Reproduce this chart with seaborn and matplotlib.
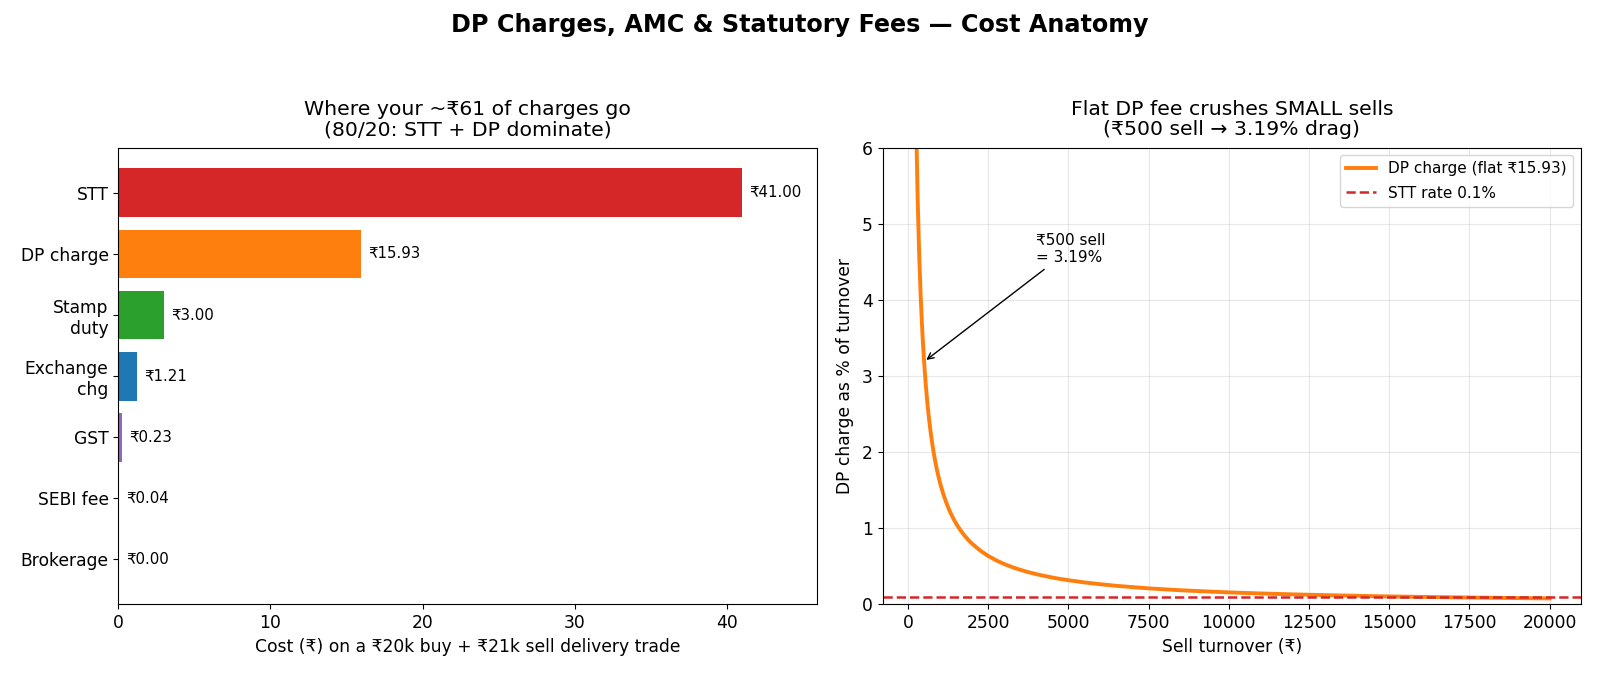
import matplotlib
matplotlib.use("Agg")
import matplotlib.pyplot as plt
import seaborn as sns
import pandas as pd

# left panel: cost breakdown of one delivery round trip
fee_names = ["STT", "DP charge", "Stamp\nduty", "Exchange\nchg", "GST", "SEBI fee", "Brokerage"]
fee_values = [41.00, 15.93, 3.00, 1.21, 0.23, 0.04, 0.00]
fee_colors = ["tab:red", "tab:orange", "tab:green", "tab:blue", "tab:purple", "tab:brown", "tab:gray"]

# right panel: flat DP charge as % of sell turnover
dp_flat = 15.93
stt_rate = 0.1
turnover = [100, 150, 200, 250, 300, 350, 400, 450, 500, 550, 600, 650, 700, 750, 800,
            850, 900, 950, 1000, 1100, 1200, 1300, 1400, 1500, 1600, 1700, 1800, 1900,
            2000, 2250, 2500, 2750, 3000, 3250, 3500, 3750, 4000, 4250, 4500, 4750,
            5000, 5500, 6000, 6500, 7000, 7500, 8000, 8500, 9000, 9500, 10000,
            11000, 12000, 13000, 14000, 15000, 16000, 17000, 18000, 19000, 20000]
dp_pct = [15.93, 10.62, 7.965, 6.372, 5.31, 4.551, 3.983, 3.54, 3.186, 2.896, 2.655,
          2.451, 2.276, 2.124, 1.991, 1.874, 1.77, 1.677, 1.593, 1.448, 1.328, 1.225,
          1.138, 1.062, 0.996, 0.937, 0.885, 0.838, 0.797, 0.708, 0.637, 0.579, 0.531,
          0.49, 0.455, 0.425, 0.398, 0.375, 0.354, 0.335, 0.319, 0.29, 0.266, 0.245,
          0.228, 0.212, 0.199, 0.187, 0.177, 0.168, 0.159, 0.145, 0.133, 0.123, 0.114,
          0.106, 0.1, 0.094, 0.089, 0.084, 0.08]

fees = pd.DataFrame({"fee": fee_names, "cost": fee_values})
curve = pd.DataFrame({"turnover": turnover, "pct": dp_pct})

fig = plt.figure(figsize=(16, 6.77), dpi=100)
ax1 = fig.add_axes([0.0739, 0.1071, 0.5106 - 0.0739, 0.7818 - 0.1071])
ax2 = fig.add_axes([0.5517, 0.1071, 0.988 - 0.5517, 0.7818 - 0.1071])

# bars
sns.barplot(data=fees, x="cost", y="fee", hue="fee", palette=fee_colors,
            orient="h", legend=False, ax=ax1, width=0.8, saturation=1)
for i, v in enumerate(fee_values):
    ax1.text(v + 0.5, i, f"₹{v:.2f}", va="center", ha="left", fontsize=10.8)
ax1.set_xlim(0, max(fee_values) * 1.12)
ax1.set_ylim(6.74, -0.74)
ax1.set_ylabel("")
ax1.set_xlabel("Cost (₹) on a ₹20k buy + ₹21k sell delivery trade", fontsize=12.3)
ax1.set_title("Where your ~₹61 of charges go\n(80/20: STT + DP dominate)", fontsize=14.7,
              pad=9, linespacing=1.1)
ax1.tick_params(labelsize=12.3)

# curve
sns.lineplot(data=curve, x="turnover", y="pct", color="tab:orange", lw=2.8,
             label=f"DP charge (flat ₹{dp_flat})", ax=ax2)
ax2.axhline(stt_rate, color="tab:red", ls="--", lw=1.8, label="STT rate 0.1%")
ax2.annotate("₹500 sell\n= 3.19%", xy=(500, 3.19), xytext=(4000, 4.5),
             fontsize=11, arrowprops=dict(arrowstyle="->", color="black", lw=1))
ax2.set_ylim(0, 6)
ax2.set_xlim(-790, 20970)
ax2.grid(alpha=0.3)
ax2.set_xlabel("Sell turnover (₹)", fontsize=12.3)
ax2.set_ylabel("DP charge as % of turnover", fontsize=12.3, labelpad=6)
ax2.set_title("Flat DP fee crushes SMALL sells\n(₹500 sell → 3.19% drag)", fontsize=14.7,
              pad=9, linespacing=1.1)
ax2.tick_params(labelsize=12.3)
ax2.legend(loc="upper right", fontsize=11, labelspacing=0.6)

fig.suptitle("DP Charges, AMC & Statutory Fees — Cost Anatomy", fontsize=17.2,
             fontweight="bold", y=0.981)

fig.savefig("out.png", dpi=100)
